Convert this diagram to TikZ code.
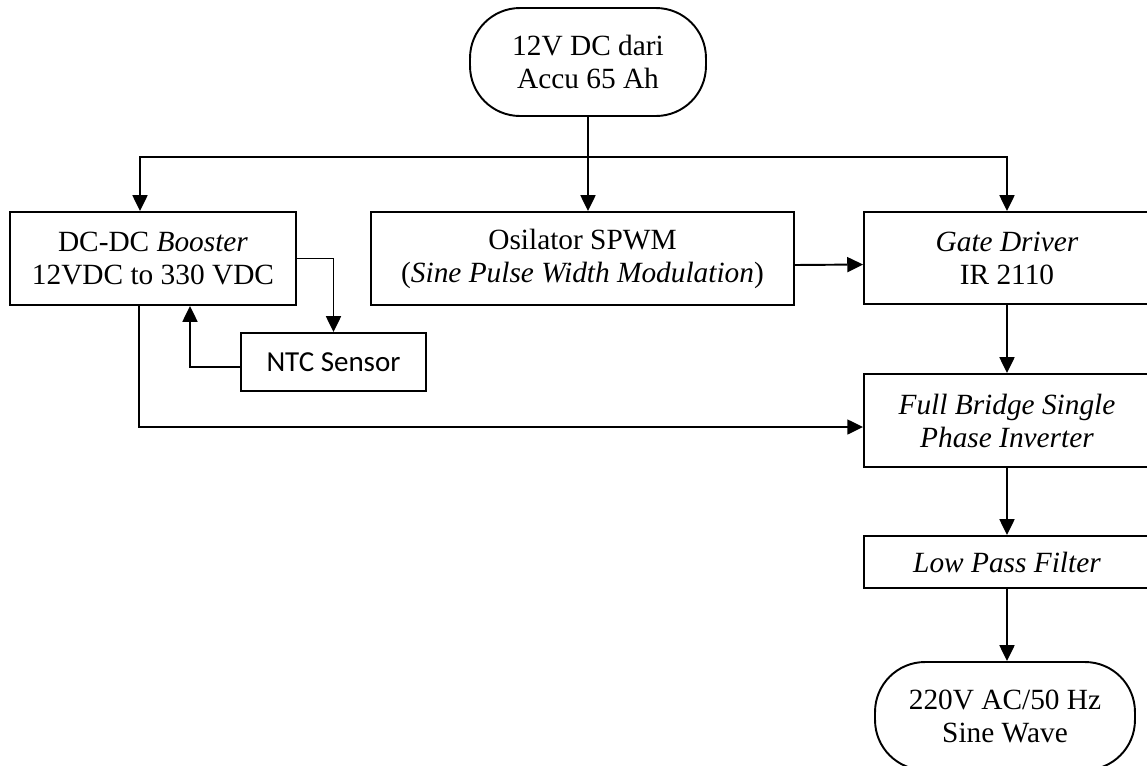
\documentclass[tikz,border=0pt]{standalone}
\usepackage{fontspec}
\setmainfont{Liberation Serif}
\newfontfamily\ntcfont{Carlito}
\usepackage{tikz}
\usetikzlibrary{arrows.meta}
\tikzstyle{block} = [rectangle, draw=black, line width=1.1pt, text centered, align=center, font=\fontsize{16.7}{18.8}\selectfont]
\tikzstyle{term} = [block, rounded corners=1cm]
\tikzstyle{sensor} = [rectangle, draw=black, line width=1.1pt, text centered, font=\ntcfont\fontsize{16.5}{19}\selectfont]
\tikzstyle{arrow} = [line width=1.1pt, -{Triangle[length=9pt,width=8.5pt]}]
\tikzstyle{wire} = [line width=1.1pt]

\begin{document}
\begin{tikzpicture}[x=0.02cm, y=-0.02cm]

\useasboundingbox (0,0) rectangle (1147,765);
\clip (0,0) rectangle (1147,765);

\node (src) [term, minimum width=4.72cm, minimum height=2.16cm] at (588,62) {12V DC dari\\Accu 65 Ah};
\node (boost) [block, minimum width=5.72cm, minimum height=1.86cm] at (153,258.5) {DC-DC \textit{Booster}\\12VDC to 330 VDC};
\node (osc) [block, minimum width=8.46cm, minimum height=1.86cm] at (582.5,258.5) {Osilator SPWM\\(\textit{Sine Pulse Width Modulation})};
\node (gate) [block, minimum width=5.72cm, minimum height=1.84cm] at (1007,258) {\textit{Gate Driver}\\IR 2110};
\node (ntc) [sensor, minimum width=3.7cm, minimum height=1.16cm] at (333.5,362) {NTC Sensor};
\node (bridge) [block, minimum width=5.72cm, minimum height=1.86cm] at (1007,420.5) {\textit{Full Bridge Single}\\\textit{Phase Inverter}};
\node (lpf) [block, minimum width=5.72cm, minimum height=1.04cm] at (1007,562) {\textit{Low Pass Filter}};
\node (out) [term, minimum width=5.2cm, minimum height=2.16cm] at (1005,716) {220V AC/50 Hz\\Sine Wave};

\coordinate (split) at (588,157);

\draw [wire] (src.south) -- (split);
\draw [arrow] (split) -| ([xshift=-0.26cm]boost.north);
\draw [arrow] (split) -- (split |- osc.north);
\draw [arrow] (split) -| (gate.north);
\draw [arrow] ([yshift=-0.13cm]osc.east) -- ([yshift=-0.13cm]gate.west);
\draw [arrow] (boost.east) -| (ntc.north);
\draw [arrow] ([yshift=-0.1cm]ntc.west) -| ([xshift=0.74cm]boost.south);
\draw [arrow] ([xshift=-0.28cm]boost.south) |- ([yshift=-0.13cm]bridge.west);
\draw [arrow] (gate) -- (bridge);
\draw [arrow] (bridge) -- (lpf);
\draw [arrow] (lpf) -- (lpf |- out.north);

\end{tikzpicture}
\end{document}
